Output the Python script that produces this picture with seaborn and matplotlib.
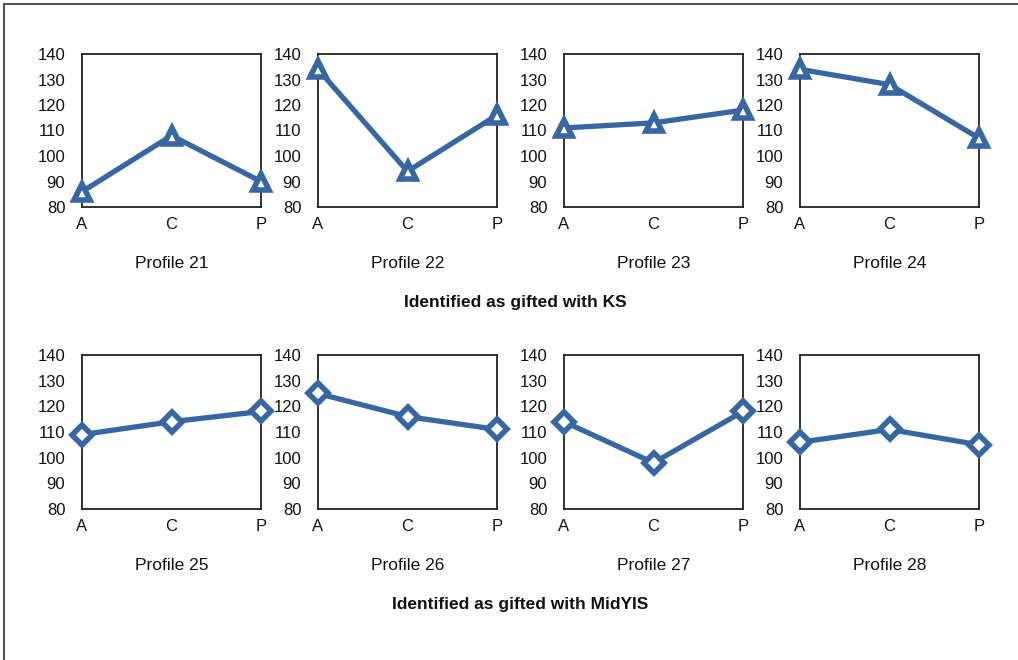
import pandas as pd
import numpy as np
import matplotlib
matplotlib.use("Agg")
import matplotlib.pyplot as plt
import seaborn as sns
from matplotlib.lines import Line2D

# Datos
etapas = ["A", "C", "P"]
perfiles_ks = ["Profile 21", "Profile 22", "Profile 23", "Profile 24"]
perfiles_midyis = ["Profile 25", "Profile 26", "Profile 27", "Profile 28"]
valores_ks = [
    [86, 108, 90],
    [134, 94, 116],
    [111, 113, 118],
    [134, 128, 107],
]
valores_midyis = [
    [109, 114, 118],
    [125, 116, 111],
    [114, 98, 118],
    [106, 111, 105],
]
titulos_grupo = ["Identified as gifted with KS", "Identified as gifted with MidYIS"]
ticks_y = [80, 90, 100, 110, 120, 130, 140]

sns.set_theme(style="white")
plt.rcParams["font.family"] = ["Liberation Sans", "DejaVu Sans"]
plt.rcParams["text.color"] = "#111111"
plt.rcParams["xtick.color"] = "#111111"
plt.rcParams["ytick.color"] = "#111111"

AZUL = "#3767a2"
W, H = 1018, 660

fig = plt.figure(figsize=(W / 100, H / 100), dpi=100)

# Marco de la imagen (izquierda y arriba)
fig.add_artist(Line2D([4 / W, 4 / W], [0, 1 - 4 / H], color="#555555", lw=1.5, transform=fig.transFigure))
fig.add_artist(Line2D([4 / W, 1], [1 - 4 / H, 1 - 4 / H], color="#555555", lw=1.5, transform=fig.transFigure))

lefts = [82, 318, 564, 800]
ancho = 179
filas = [
    (54, 207, perfiles_ks, valores_ks, "^"),
    (355, 509, perfiles_midyis, valores_midyis, "D"),
]

# Paneles
for top, bottom, nombres, valores, marcador in filas:
    for left, nombre, vals in zip(lefts, nombres, valores):
        ax = fig.add_axes([left / W, 1 - bottom / H, ancho / W, (bottom - top) / H])
        df = pd.DataFrame({"etapa": etapas, "valor": vals})
        sns.lineplot(
            data=df, x="etapa", y="valor", ax=ax, color=AZUL, linewidth=3.8,
            marker=marcador, markersize=12 if marcador == "^" else 10,
            markerfacecolor="white", markeredgecolor=AZUL, markeredgewidth=4,
            clip_on=False, zorder=5,
        )
        ax.set_xlim(0, 2)
        ax.set_ylim(80, 140)
        ax.set_yticks(ticks_y)
        ax.set_xticks(range(len(etapas)))
        ax.set_xticklabels(etapas)
        ax.set_xlabel("")
        ax.set_ylabel("")
        ax.tick_params(axis="y", length=0, pad=12, labelsize=12)
        ax.tick_params(axis="x", length=0, pad=7, labelsize=12)
        for s in ax.spines.values():
            s.set_visible(True)
            s.set_color("#222222")
            s.set_linewidth(1.3)
        ax.text(0.5, -(263 - 207) / 153, nombre, transform=ax.transAxes,
                ha="center", va="center", fontsize=12.5)

# Títulos de grupo
fig.text(515 / W, 1 - 303 / H, titulos_grupo[0], ha="center", va="center",
         fontsize=12.5, fontweight="bold")
fig.text(520 / W, 1 - 605 / H, titulos_grupo[1], ha="center", va="center",
         fontsize=12.5, fontweight="bold")

fig.savefig("out.png", dpi=100)
